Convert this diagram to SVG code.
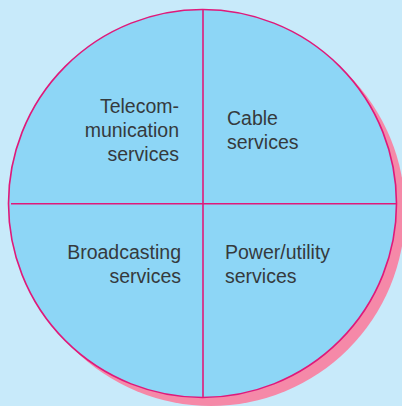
<svg xmlns="http://www.w3.org/2000/svg" width="402" height="406" viewBox="0 0 402 406">
  <style>
    .label { font-family: "Liberation Sans", Arial, sans-serif; font-size: 19.5px; fill: #353a3d; }
    .divider { stroke: #e0197a; stroke-width: 1.6; fill: none; }
  </style>
  <!-- backdrop -->
  <rect x="0" y="0" width="402" height="406" fill="#c8eafa"/>
  <!-- drop shadow and main disc -->
  <circle id="shadow" cx="211" cy="212" r="194" fill="#f589a8"/>
  <circle id="disc" cx="202.5" cy="203.5" r="194" fill="#8dd6f6" stroke="#e0197a" stroke-width="1.6"/>
  <!-- quadrant dividers -->
  <g id="connectors">
    <line class="divider" x1="203" y1="9.5" x2="203" y2="397.5"/>
    <line class="divider" x1="11" y1="203.7" x2="396.5" y2="203.7"/>
  </g>
  <g id="telecom">
    <text class="label" text-anchor="end" x="179" y="113">Telecom-</text>
    <text class="label" text-anchor="end" x="179" y="137">munication</text>
    <text class="label" text-anchor="end" x="179" y="161">services</text>
  </g>
  <g id="cable">
    <text class="label" x="227" y="125">Cable</text>
    <text class="label" x="227" y="149">services</text>
  </g>
  <g id="broadcasting">
    <text class="label" text-anchor="end" x="181" y="259">Broadcasting</text>
    <text class="label" text-anchor="end" x="181" y="283">services</text>
  </g>
  <g id="power">
    <text class="label" x="225" y="259">Power/utility</text>
    <text class="label" x="225" y="283">services</text>
  </g>
</svg>
